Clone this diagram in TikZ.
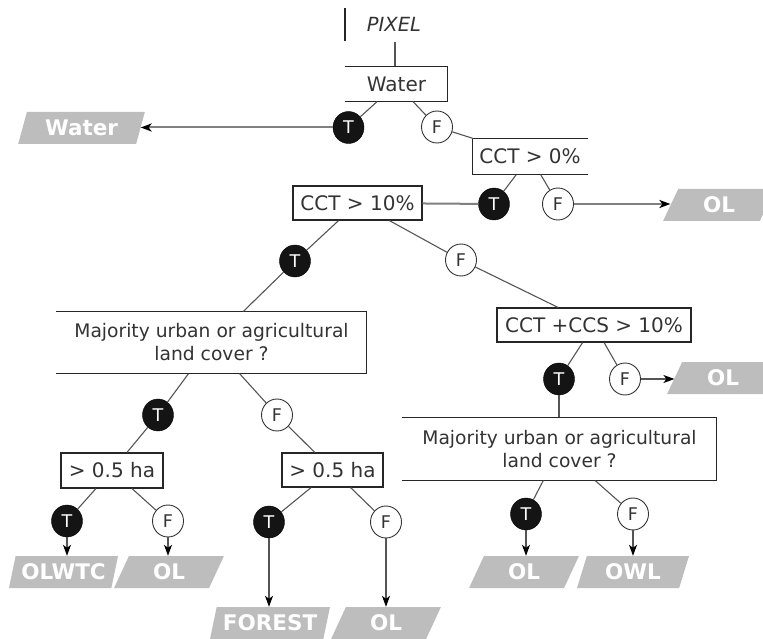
\documentclass[tikz,border=0pt]{standalone}
\usepackage{fontspec}
\setmainfont{DejaVu Sans}
\usetikzlibrary{shapes.geometric,arrows.meta}
\definecolor{txt}{HTML}{333333}
\definecolor{ln}{HTML}{555555}
\definecolor{leafgray}{HTML}{BDBDBD}
\begin{document}
\begin{tikzpicture}[x=1pt,y=-1pt,
 box/.style={draw=black!85,line width=1.2pt,inner sep=0pt,text=txt,font=\fontsize{20}{23}\selectfont,align=center},
 obox/.style={box,draw=none},
 majfont/.style={font=\fontsize{18.7}{23}\selectfont},
 edgeline/.style={draw=black!85,line width=1.2pt},
 tnode/.style={ellipse,fill=black!92,draw=black,text=white,minimum width=31pt,minimum height=32pt,inner sep=0pt,font=\fontsize{17.5}{20}\selectfont},
 fnode/.style={ellipse,fill=white,draw=black!80,line width=0.9pt,text=txt,minimum width=31pt,minimum height=32pt,inner sep=0pt,font=\fontsize{17.5}{20}\selectfont},
 leaf/.style={trapezium,trapezium left angle=70,trapezium right angle=110,trapezium stretches=true,fill=leafgray,draw=none,minimum width=112pt,minimum height=32pt,inner sep=0pt,text=white,font=\bfseries\fontsize{21.5}{24}\selectfont},
 link/.style={draw=ln,line width=1.1pt},
 wlink/.style={draw=black!50,line width=2pt},
 arr/.style={-{Stealth[length=11pt,width=8pt,inset=3pt,color=black]}},
]
\useasboundingbox (0,0) rectangle (763,639);

% PIXEL
\coordinate (bar1) at (345,8);
\coordinate (bar2) at (345,41);
\draw[black!85,line width=1.2pt] (bar1) -- (bar2);
\node[text=txt,font=\itshape\fontsize{19.5}{22}\selectfont,inner sep=0pt] (pix) at (394,24) {PIXEL};
\coordinate (pixend) at (395,42);

% boxes
\node[obox,minimum width=101pt,minimum height=34pt] (water) at (396.5,84) {Water};
\node[obox,minimum width=114pt,minimum height=35pt] (c0) at (530,156.5) {CCT > 0\%};
\node[box,minimum width=129pt,minimum height=34pt] (c10) at (357.5,203) {CCT > 10\%};
\node[obox,majfont,minimum width=309pt,minimum height=61pt] (maj1) at (211.5,342.5) {Majority urban or agricultural\\land cover ?};
\node[box,minimum width=194pt,minimum height=34pt] (ccs) at (594,325) {CCT +CCS > 10\%};
\node[obox,majfont,minimum width=313pt,minimum height=62pt] (maj2) at (559.5,449) {Majority urban or agricultural\\land cover ?};
\node[box,minimum width=102pt,minimum height=35pt] (ha1) at (112,470.5) {> 0.5 ha};
\node[box,minimum width=101pt,minimum height=34pt] (ha2) at (332.5,470) {> 0.5 ha};

% partial borders
\draw[edgeline] (water.north west) -- (water.north east) -- (water.south east) -- (water.south west);
\draw[edgeline] (c0.north east) -- (c0.north west) -- (c0.south west) -- (c0.south east);
\draw[edgeline] (maj1.north west) -- (maj1.north east) -- (maj1.south east) -- (maj1.south west);
\draw[edgeline] (maj2.north west) -- (maj2.north east) -- (maj2.south east) -- (maj2.south west);

% decision circles
\node[tnode] (T1) at (348.5,127.5) {T};
\node[fnode] (F1) at (437,127) {F};
\node[tnode] (T2) at (494,204) {T};
\node[fnode] (F2) at (558,204) {F};
\node[tnode] (T3) at (295,261) {T};
\node[fnode] (F3) at (461,260) {F};
\node[tnode] (T4) at (559,379) {T};
\node[fnode] (F4) at (625,379) {F};
\node[tnode] (T5) at (158,415) {T};
\node[fnode] (F5) at (277,415) {F};
\node[tnode] (T6) at (67,521) {T};
\node[fnode] (F6) at (168,521) {F};
\node[tnode] (T7) at (269,522) {T};
\node[fnode] (F7) at (386,522) {F};
\node[tnode] (T8) at (526,514) {T};
\node[fnode] (F8) at (633,514) {F};

% leaves
\node[leaf,minimum width=127pt] (wleaf) at (81.5,128) {Water};
\node[leaf] (ol1) at (719,205) {OL};
\node[leaf] (ol2) at (723,378) {OL};
\node[leaf,minimum width=110pt] (olwtc) at (63.5,572) {OLWTC};
\node[leaf,minimum width=110pt] (ol3) at (169,572) {OL};
\node[leaf,minimum width=120pt] (forest) at (270,623) {FOREST};
\node[leaf,minimum width=110pt] (ol4) at (386,623) {OL};
\node[leaf,minimum width=110pt] (ol5) at (524,572) {OL};
\node[leaf] (owl) at (633,572) {OWL};

% connectors
\draw[link] (pixend) -- (pixend |- water.north);
\draw[link] (water) -- (T1);
\draw[link] (water) -- (F1);
\draw[wlink,arr] (T1) -- (T1 -| wleaf.east);
\draw[link] (F1) -- (c0);
\draw[link] (c0) -- (T2);
\draw[link] (c0) -- (F2);
\draw[wlink] (c10) -- (T2);
\draw[wlink,arr] (F2) -- (F2 -| ol1.west);
\draw[link] (c10) -- (T3);
\draw[link] (c10) -- (F3);
\draw[link] (T3) -- (maj1);
\draw[link] (F3) -- (ccs);
\draw[link] (ccs) -- (T4);
\draw[link] (ccs) -- (F4);
\draw[link,arr] (F4) -- (F4 -| ol2.west);
\draw[link] (T4) -- (T4 |- maj2.north);
\draw[link] (maj1) -- (T5);
\draw[link] (maj1) -- (F5);
\draw[link] (T5) -- (ha1);
\draw[link] (F5) -- (ha2);
\draw[link] (ha1) -- (T6);
\draw[link] (ha1) -- (F6);
\draw[link] (ha2) -- (T7);
\draw[link] (ha2) -- (F7);
\draw[link] (maj2) -- (T8);
\draw[link] (maj2) -- (F8);
\draw[link,arr] (T6.south) -- (T6.south |- olwtc.north);
\draw[link,arr] (F6.south) -- (F6.south |- ol3.north);
\draw[link,arr] (T7.south) -- (T7.south |- forest.north);
\draw[link,arr] (F7.south) -- (F7.south |- ol4.north);
\draw[link,arr] (T8.south) -- (T8.south |- ol5.north);
\draw[link,arr] (F8.south) -- (F8.south |- owl.north);
\end{tikzpicture}
\end{document}
